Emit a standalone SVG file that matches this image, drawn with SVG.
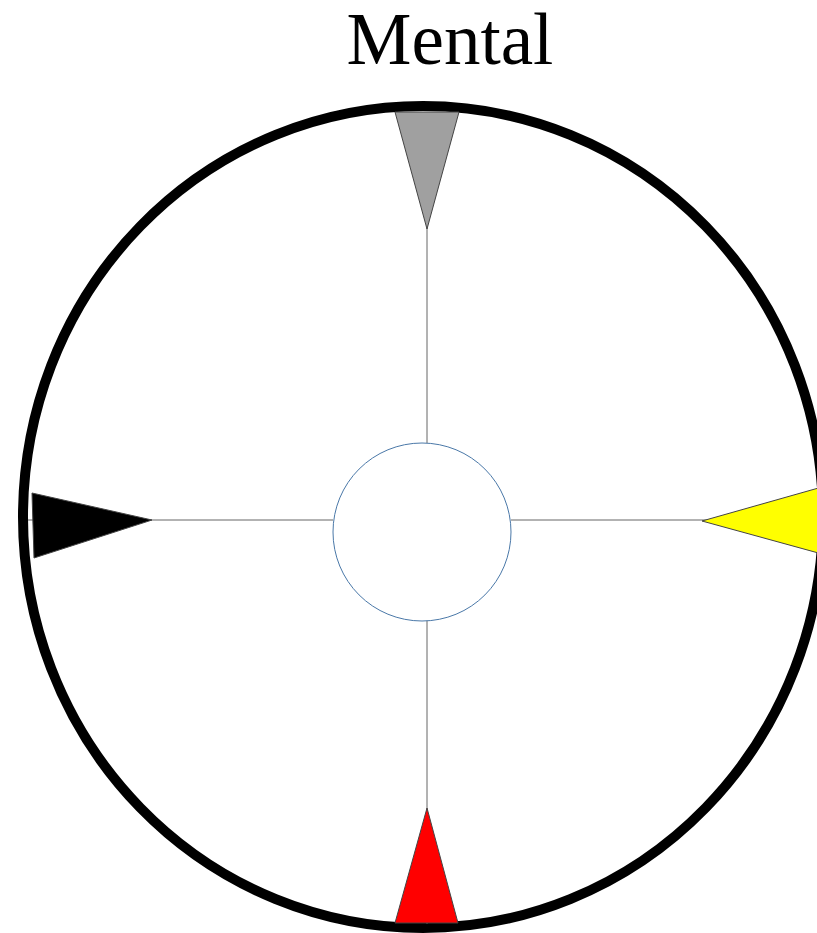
<svg xmlns="http://www.w3.org/2000/svg" width="817" height="933" viewBox="0 0 817 933">
<style>
.title{font-family:"Liberation Serif","Times New Roman",serif;font-size:73px;fill:#000;text-anchor:middle}
.ring{fill:none;stroke:#000;stroke-width:10}
.spoke{stroke:#666;stroke-width:1;fill:none}
.tri{stroke:#444;stroke-width:1}
</style>
<rect width="817" height="933" fill="#fff"/>
<text class="title" x="450" y="64">Mental</text>
<g id="ring"><ellipse class="ring" cx="423" cy="517" rx="400" ry="411"/></g>
<g id="connectors">
<line class="spoke" x1="427" y1="112" x2="427" y2="443"/>
<line class="spoke" x1="427" y1="620" x2="427" y2="924"/>
<line class="spoke" x1="28" y1="520" x2="333" y2="520"/>
<line class="spoke" x1="511" y1="520" x2="817" y2="520"/>
</g>
<g id="center"><circle cx="422" cy="532" r="89" fill="#fff" stroke="#4a78a8" stroke-width="1"/></g>
<g id="north"><polygon class="tri" points="395,112 459,112 427,229" fill="#a0a0a0"/></g>
<g id="west"><polygon class="tri" points="32,493 34,558 152,520" fill="#000"/></g>
<g id="east"><polygon class="tri" points="822,487 822,554 702,521" fill="#ffff00"/></g>
<g id="south"><polygon class="tri" points="395,923 458,923 427,808" fill="#ff0000"/></g>
</svg>
